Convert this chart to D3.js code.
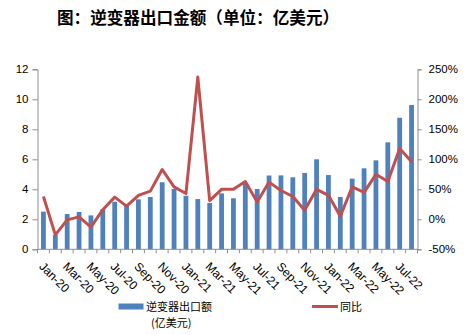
<!DOCTYPE html>
<html><head><meta charset="utf-8">
<script src="https://cdn.jsdelivr.net/npm/d3@7"></script>
<style>
html,body{margin:0;padding:0;background:#fff;}
svg{display:block;}
text{font-family:"Liberation Sans",Arial,sans-serif;}
.cjk{font-family:"Noto Sans CJK SC","Noto Sans",sans-serif;}
</style></head>
<body>
<script>
const months = ["Jan-20","Feb-20","Mar-20","Apr-20","May-20","Jun-20","Jul-20","Aug-20","Sep-20","Oct-20","Nov-20","Dec-20",
"Jan-21","Feb-21","Mar-21","Apr-21","May-21","Jun-21","Jul-21","Aug-21","Sep-21","Oct-21","Nov-21","Dec-21",
"Jan-22","Feb-22","Mar-22","Apr-22","May-22","Jun-22","Jul-22","Aug-22"];
const exportValue = [2.51,0.95,2.35,2.49,2.26,2.67,3.17,2.89,3.33,3.49,4.47,4.02,
3.57,3.35,3.09,3.73,3.40,4.40,4.02,4.92,4.93,4.80,5.09,6.00,
4.95,3.49,4.71,5.40,5.93,7.13,8.77,9.62];
const yoy = [38,-26,-1,4,-13,16,37,22,40,47,83,54,
43,237,31,50,50,63,29,62,48,38,15,50,
40,5,54,45,75,63,118,96];
const leftTicks = [0,2,4,6,8,10,12];
const rightTicks = [-50,0,50,100,150,200,250];
const title = "图：逆变器出口金额（单位：亿美元）";
const legendBar = ["逆变器出口额","(亿美元)"];
const legendLine = "同比";

const W = 468, H = 335;
const m = {left:37.5, right:417.5, top:69.3, bottom:249.3};
const svg = d3.select("body").append("svg").attr("width",W).attr("height",H);

svg.append("text").attr("class","cjk").attr("x",57).attr("y",24)
  .attr("font-size",16.6).attr("font-weight","bold").attr("fill","#000").text(title);

const x = d3.scaleBand().domain(months).range([m.left,m.right]).paddingInner(0.6).paddingOuter(0.3);
const xb = d3.scaleBand().domain(months).range([m.left,m.right]);
const yL = d3.scaleLinear().domain([0,12]).range([m.bottom,m.top]);
const yR = d3.scaleLinear().domain([-50,250]).range([m.bottom,m.top]);

const axisColor = "#8e8e8e";

// bars
svg.append("g").selectAll("rect").data(exportValue).join("rect")
  .attr("x",(d,i)=>xb(months[i]) + xb.bandwidth()/2 - 2.4)
  .attr("width",4.8)
  .attr("y",d=>yL(d)).attr("height",d=>yL(0)-yL(d))
  .attr("fill","#4F81BD");

// left axis
const gL = svg.append("g").attr("transform",`translate(${m.left},0)`)
  .call(d3.axisLeft(yL).tickValues(leftTicks).tickSize(5).tickPadding(4).tickFormat(d3.format("d")));
gL.select(".domain").attr("stroke",axisColor);
gL.selectAll(".tick line").attr("stroke",axisColor);
gL.selectAll("text").attr("font-size",11.5).attr("fill","#000").attr("font-family","Liberation Sans, Arial, sans-serif");

// right axis
const gR = svg.append("g").attr("transform",`translate(${m.right},0)`)
  .call(d3.axisRight(yR).tickValues(rightTicks).tickSize(4).tickPadding(7).tickFormat(d=>d+"%"));
gR.select(".domain").attr("stroke",axisColor);
gR.selectAll(".tick line").attr("stroke",axisColor);
gR.selectAll("text").attr("font-size",11.5).attr("fill","#000").attr("font-family","Liberation Sans, Arial, sans-serif");

// bottom axis
const gB = svg.append("g").attr("transform",`translate(0,${m.bottom})`);
gB.append("line").attr("x1",m.left).attr("x2",m.right).attr("stroke",axisColor);
gB.selectAll("line.t").data(months.concat(["end"])).join("line").attr("class","t")
  .attr("x1",(d,i)=>m.left + i*xb.step()).attr("x2",(d,i)=>m.left + i*xb.step())
  .attr("y1",0).attr("y2",4).attr("stroke",axisColor);
gB.selectAll("text").data(months.filter((d,i)=>i%2===0)).join("text")
  .attr("transform",d=>`translate(${xb(d)+xb.bandwidth()/2-5},${18}) rotate(45)`)
  .attr("font-size",12).attr("fill","#000").text(d=>d);

// line
const line = d3.line().x((d,i)=>xb(months[i])+xb.bandwidth()/2).y(d=>yR(d));
svg.append("path").datum(yoy).attr("d",line).attr("fill","none")
  .attr("stroke","#C0504D").attr("stroke-width",3).attr("stroke-linejoin","round");

// legend
svg.append("rect").attr("x",118.5).attr("y",303.5).attr("width",25).attr("height",6).attr("fill","#4F81BD");
svg.append("text").attr("class","cjk").attr("x",146).attr("y",310.5).attr("font-size",11).attr("fill","#000").text(legendBar[0]);
svg.append("text").attr("class","cjk").attr("x",151).attr("y",327).attr("font-size",11).attr("fill","#000").text(legendBar[1]);
svg.append("line").attr("x1",312).attr("x2",338).attr("y1",306.5).attr("y2",306.5).attr("stroke","#C0504D").attr("stroke-width",3);
svg.append("text").attr("class","cjk").attr("x",340).attr("y",310.5).attr("font-size",11).attr("fill","#000").text(legendLine);
</script>
</body></html>
